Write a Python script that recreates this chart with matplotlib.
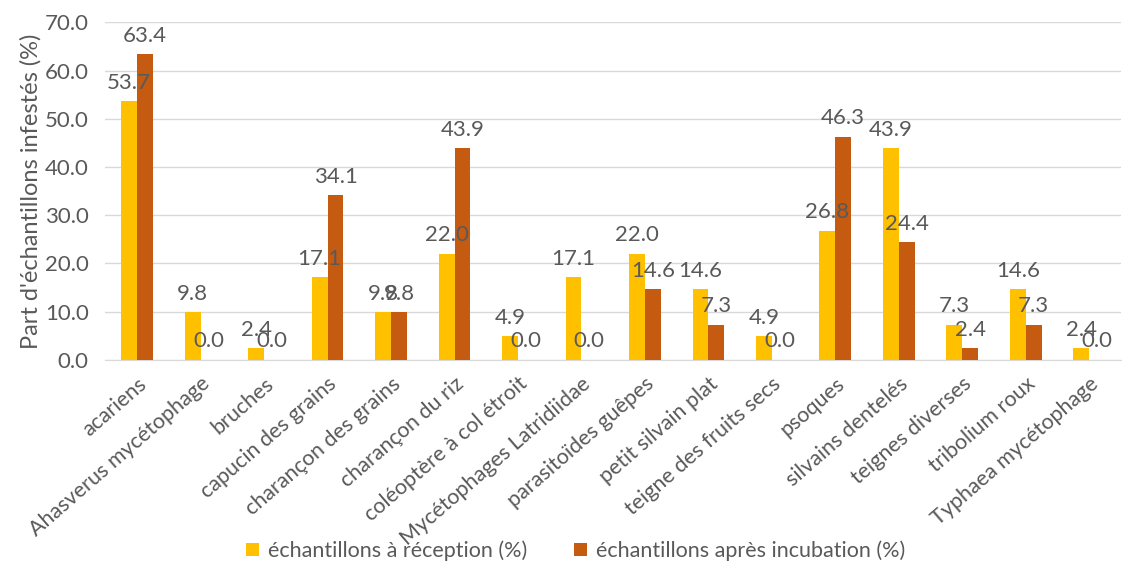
import numpy as np
import matplotlib
from matplotlib import pyplot as plt

matplotlib.use('agg')

categories = ["acariens", "Ahasverus mycétophage", "bruches", "capucin des grains",
              "charançon des grains", "charançon du riz", "coléoptère à col étroit",
              "Mycétophages Latridiidae", "parasitoïdes guêpes", "petit silvain plat",
              "teigne des fruits secs", "psoques", "silvains dentelés", "teignes diverses",
              "tribolium roux", "Typhaea mycétophage"]
reception = [53.7, 9.8, 2.4, 17.1, 9.8, 22.0, 4.9, 17.1, 22.0, 14.6, 4.9, 26.8, 43.9, 7.3, 14.6, 2.4]
incubation = [63.4, 0.0, 0.0, 34.1, 9.8, 43.9, 0.0, 0.0, 14.6, 7.3, 0.0, 46.3, 24.4, 2.4, 7.3, 0.0]
series_names = ["échantillons à réception (%)", "échantillons après incubation (%)"]

plt.rcParams['font.family'] = ['Lato', 'DejaVu Sans']
grey = '#595959'

fig = plt.figure(figsize=(11.22, 5.62), dpi=100)
ax = fig.add_axes([0.094, 0.36, 0.905, 0.60])

x = np.arange(len(categories))
w = 0.25
b1 = ax.bar(x - w / 2, reception, w, color='#FFC000', label=series_names[0], zorder=3)
b2 = ax.bar(x + w / 2, incubation, w, color='#C55A11', label=series_names[1], zorder=3)
for bars in (b1, b2):
    ax.bar_label(bars, fmt='%.1f', padding=6, fontsize=16, color=grey)

ax.set_ylim(0, 70)
ax.set_xlim(-0.5, len(categories) - 0.5)
ax.set_yticks(np.arange(0, 71, 10))
ax.set_yticklabels([f"{v:.1f}" for v in np.arange(0, 71, 10)], fontsize=16, color=grey)
ax.yaxis.grid(True, color='#D9D9D9', linewidth=1, zorder=0)
ax.set_axisbelow(True)
for s in ['top', 'right', 'left']:
    ax.spines[s].set_visible(False)
ax.spines['bottom'].set_color('#D9D9D9')
ax.tick_params(axis='both', length=0)
ax.tick_params(axis='y', pad=12)

ax.set_xticks(x)
ax.set_xticklabels(categories, rotation=41, ha='right', rotation_mode='anchor',
                   fontsize=15.5, color=grey)
ax.tick_params(axis='x', pad=10)
ax.set_ylabel("Part d'échantillons infestés (%)", fontsize=17, color=grey, labelpad=2)

fig.legend(handles=[b1, b2], loc='center', bbox_to_anchor=(0.513, 0.02), ncol=2,
           frameon=False, fontsize=15.5, labelcolor=grey, handlelength=0.6, handleheight=0.6,
           columnspacing=2.2, handletextpad=0.4)

plt.savefig("out.png", dpi=100)
plt.close()
